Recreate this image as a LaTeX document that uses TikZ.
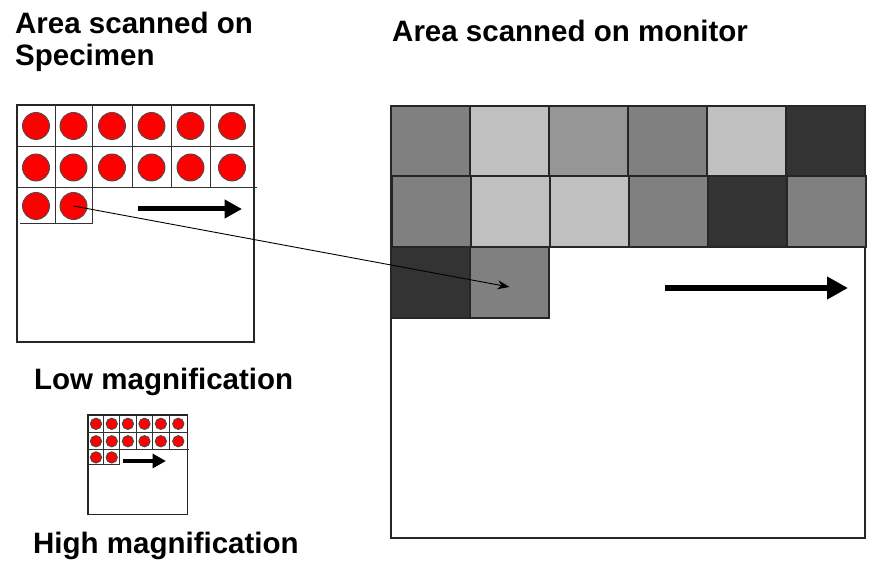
\documentclass[tikz,border=0pt]{standalone}
\usepackage{fontspec}
\setmainfont{Liberation Sans}
\usetikzlibrary{arrows.meta}

\definecolor{gMid}{HTML}{808080}
\definecolor{gLight}{HTML}{C0C0C0}
\definecolor{gSoft}{HTML}{969696}
\definecolor{gDark}{HTML}{333333}
\definecolor{dotRed}{HTML}{FF0000}

\tikzset{
  frame/.style={draw=black!85, line width=1.4pt},
  gridline/.style={draw=black!80, line width=1pt},
  dot/.style={fill=dotRed, draw=black!70, line width=0.9pt},
  cell/.style={draw=black!85, line width=1.4pt, inner sep=0pt, outer sep=0pt,
               minimum width=79pt},
  label/.style={anchor=base west, inner sep=0pt,
                font=\fontsize{29.5}{32}\selectfont\bfseries},
  scanarrow/.style={line width=#1, -{Triangle[length=3.5*#1, width=3.6*#1]}},
  link/.style={line width=0.9pt, -{Stealth[length=12pt, width=9pt]}},
  % specimen area: frame, two full rows of six cells and a partial third row
  specimen/.pic={
    \draw[frame] (0,0) rectangle (237,237);
    \foreach \gx in {38,75,115,154,193} \draw[gridline] (\gx,0) -- (\gx,83);
    \draw[gridline] (0,42) -- (237,42);
    \draw[gridline] (0,83) -- (240,83);
    \draw[gridline] (38,83) -- (38,119);
    \draw[gridline] (75,83) -- (75,119) -- (3,119);
    \foreach \cx in {19,56.5,95,134.5,173.5,215} {
      \draw[dot] (\cx,21) circle[radius=13.5];
      \draw[dot] (\cx,62.5) circle[radius=13.5];
    }
    \draw[dot] (19,101) circle[radius=13.5];
    \draw[dot] (56.5,101) circle[radius=13.5];
    \coordinate (-dot) at (56.5,101);
  }
}

\begin{document}
\begin{tikzpicture}[x=1pt, y=-1pt]
\useasboundingbox (0,0) rectangle (872,561);

% headings and captions
\node[label] (tSpec1) at (15,34) {Area scanned on};
\node[label] (tSpec2) at (15,66) {Specimen};
\node[label] (tMon) at (392,42) {Area scanned on monitor};
\node[label] (tLow) at (34,389) {Low magnification};
\node[label] (tHigh) at (33,553) {High magnification};

% specimen at low and high magnification
\pic (lo) at (17,105) {specimen};
\pic[scale=0.42] (hi) at (88,415) {specimen};

% scan direction on the specimen
\coordinate (loA) at (138,209);
\coordinate (loB) at (242,209);
\draw[scanarrow=5pt] (loA) -- (loB);
\coordinate (hiA) at (123,461);
\coordinate (hiB) at (166,461);
\draw[scanarrow=3.8pt] (hiA) -- (hiB);

% monitor frame
\node[frame, minimum width=474pt, minimum height=432pt, inner sep=0pt] (mon) at (628,322) {};

% monitor pixels
\foreach \c [count=\i] in {gMid,gLight,gSoft,gMid,gLight,gDark}
  \node[cell, fill=\c, minimum height=70pt] (m1\i) at (391+79*\i-39.5,141) {};
\foreach \c [count=\i] in {gMid,gLight,gLight,gMid,gDark,gMid}
  \node[cell, fill=\c, minimum height=71pt] (m2\i) at (392+79*\i-39.5,211.5) {};
\foreach \c [count=\i] in {gDark,gMid}
  \node[cell, fill=\c, minimum height=71pt] (m3\i) at (391+79*\i-39.5,282.5) {};

% scan direction on the monitor
\coordinate (monA) at (665,288);
\coordinate (monB) at (848,288);
\draw[scanarrow=6pt] (monA) -- (monB);

% one specimen spot mapped to one monitor pixel
\draw[link] (lo-dot) -- ([shift={(0,4.5)}]m32.center);
\end{tikzpicture}
\end{document}
